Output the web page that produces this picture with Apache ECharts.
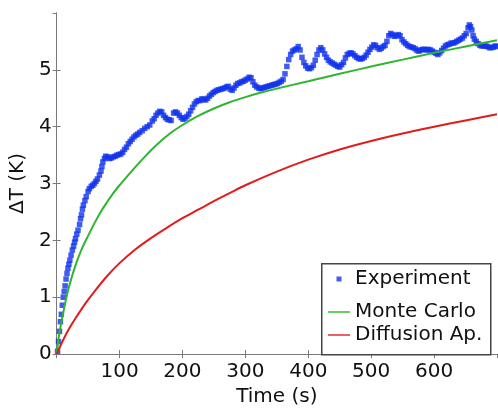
<!DOCTYPE html>
<html>
<head>
<meta charset="utf-8">
<script src="https://cdn.jsdelivr.net/npm/echarts@6/dist/echarts.min.js"></script>
<style>
  html, body { margin: 0; padding: 0; background: #fff; }
  #main { width: 498px; height: 412px; }
</style>
</head>
<body>
<div id="main"></div>
<script>
// experiment (time in s, delta T in K)
var expTime = [1.5, 3, 4.5, 6, 7.5, 9, 10.5, 12, 13.5, 15, 16.5, 18, 19.5, 21, 23, 25, 27, 28.5, 30, 32,
  34, 36.5, 38, 39.5, 41, 42.5, 45, 47, 50, 52, 55, 57.5, 60, 62.5, 65, 68, 70.5, 72, 73.5, 76,
  78, 81, 84, 87, 90, 93, 96, 99, 102, 105, 108, 111, 114, 117, 120, 123, 126, 129, 132, 136,
  140, 144, 148, 152, 155, 158, 161, 164, 167, 170, 173, 176, 179, 182, 186, 189, 192, 195, 198, 201,
  204, 207, 210, 213, 216, 219, 222, 225, 228, 231, 234, 237, 240, 243, 246, 249, 252, 255, 258, 261,
  264, 267, 270, 273, 276, 279, 282, 285, 288, 291, 294, 297, 300, 303, 306, 309, 312, 315, 318, 321,
  324, 327, 330, 333, 336, 339, 342, 345, 348, 351, 354, 357, 360, 363, 366, 369, 372, 375, 378, 381,
  384, 387, 390, 393, 396, 399, 402, 405, 408, 411, 414, 417, 420, 423, 426, 429, 432, 435, 438, 441,
  444, 447, 450, 453, 456, 459, 462, 465, 468, 471, 474, 477, 480, 483, 486, 489, 492, 495, 498, 501,
  504, 507, 510, 513, 516, 519, 522, 525, 528, 531, 534, 537, 540, 543, 546, 549, 552, 555, 558, 561,
  564, 567, 570, 573, 576, 579, 582, 585, 588, 591, 594, 597, 600, 603, 606, 609, 612, 615, 618, 621,
  624, 627, 630, 633, 636, 639, 642, 645, 648, 651, 654, 656, 658, 660, 662, 664, 667, 670, 673, 676,
  679, 682, 685, 688, 691, 694, 697, 700];
var expDT = [0.05, 0.22, 0.4, 0.57, 0.7, 0.86, 1.0, 1.1, 1.2, 1.32, 1.42, 1.51, 1.58, 1.65, 1.74, 1.83, 1.9, 1.97, 2.03, 2.11,
  2.18, 2.28, 2.38, 2.45, 2.55, 2.62, 2.7, 2.77, 2.86, 2.91, 2.95, 2.97, 3.0, 3.04, 3.08, 3.15, 3.22, 3.3, 3.38, 3.44,
  3.48, 3.47, 3.44, 3.45, 3.47, 3.48, 3.5, 3.51, 3.52, 3.55, 3.6, 3.64, 3.7, 3.74, 3.78, 3.82, 3.85, 3.87, 3.9, 3.93,
  3.97, 4.0, 4.03, 4.1, 4.14, 4.2, 4.24, 4.27, 4.26, 4.2, 4.16, 4.13, 4.12, 4.11, 4.24, 4.26, 4.24, 4.2, 4.16, 4.13,
  4.15, 4.18, 4.22, 4.28, 4.34, 4.4, 4.44, 4.46, 4.46, 4.49, 4.48, 4.47, 4.5, 4.54, 4.57, 4.6, 4.62, 4.64, 4.65, 4.66,
  4.67, 4.68, 4.7, 4.71, 4.66, 4.64, 4.68, 4.73, 4.76, 4.77, 4.79, 4.8, 4.82, 4.84, 4.87, 4.86, 4.79, 4.73, 4.7, 4.68,
  4.67, 4.68, 4.69, 4.7, 4.71, 4.72, 4.73, 4.74, 4.75, 4.76, 4.78, 4.8, 4.83, 4.93, 5.06, 5.18, 5.27, 5.33, 5.35, 5.37,
  5.41, 5.35, 5.22, 5.13, 5.07, 5.03, 5.02, 5.04, 5.08, 5.17, 5.27, 5.35, 5.39, 5.35, 5.28, 5.22, 5.17, 5.14, 5.12, 5.1,
  5.08, 5.06, 5.05, 5.09, 5.13, 5.21, 5.27, 5.29, 5.3, 5.28, 5.25, 5.22, 5.2, 5.19, 5.2, 5.22, 5.26, 5.31, 5.36, 5.4,
  5.44, 5.43, 5.39, 5.36, 5.38, 5.41, 5.43, 5.5, 5.6, 5.64, 5.62, 5.59, 5.6, 5.62, 5.6, 5.53, 5.49, 5.46, 5.43, 5.41,
  5.4, 5.39, 5.37, 5.34, 5.33, 5.35, 5.36, 5.36, 5.35, 5.36, 5.35, 5.33, 5.31, 5.29, 5.27, 5.3, 5.34, 5.38, 5.42, 5.44,
  5.45, 5.47, 5.47, 5.48, 5.5, 5.52, 5.54, 5.56, 5.6, 5.64, 5.74, 5.79, 5.76, 5.7, 5.6, 5.54, 5.5, 5.46, 5.43, 5.42,
  5.42, 5.42, 5.41, 5.39, 5.39, 5.4, 5.42, 5.41];

// Monte Carlo curve
var mcTime = [0, 3, 6, 10, 15, 20, 30, 40, 50, 60, 70, 80, 90, 100, 110, 125, 140, 160, 180, 200,
  225, 250, 275, 300, 325, 350, 400, 450, 500, 550, 600, 650, 700];
var mcDT = [0, 0.27, 0.47, 0.7, 0.97, 1.2, 1.56, 1.85, 2.08, 2.3, 2.5, 2.67, 2.83, 2.97, 3.1, 3.29, 3.47, 3.69, 3.88, 4.03,
  4.19, 4.32, 4.43, 4.52, 4.6, 4.67, 4.8, 4.93, 5.06, 5.18, 5.3, 5.41, 5.52];

// diffusion approximation curve
var daTime = [0, 10, 20, 30, 45, 60, 80, 100, 125, 150, 175, 200, 225, 250, 275, 300, 350, 400, 450, 500,
  550, 600, 650, 700];
var daDT = [0, 0.24, 0.45, 0.63, 0.88, 1.1, 1.37, 1.6, 1.84, 2.04, 2.22, 2.39, 2.54, 2.69, 2.83, 2.97, 3.21, 3.42, 3.6, 3.75,
  3.88, 4.0, 4.11, 4.22];

function pairs(xs, ys) {
  var out = [];
  for (var i = 0; i < xs.length; i++) out.push([xs[i], ys[i]]);
  return out;
}

var font = 'DejaVu Sans';
var axisGray = '#7a7a7a';
var tickStyle = { show: true, inside: true, length: 4, lineStyle: { color: axisGray } };
var lineStyle = { show: true, lineStyle: { color: axisGray, width: 1 } };
var lineIcon = 'path://M0,0M22,14M0,6.2h22v1.6h-22z';

var chart = echarts.init(document.getElementById('main'));
chart.setOption({
  animation: false,
  backgroundColor: '#fff',
  grid: { left: 53, right: 1, top: 13, bottom: 49 },
  xAxis: [{
    type: 'value', min: 0, max: 700, interval: 100, position: 'bottom',
    name: 'Time (s)', nameLocation: 'middle', nameGap: 27,
    nameTextStyle: { fontFamily: font, fontSize: 20, color: '#111' },
    axisLine: lineStyle, axisTick: tickStyle, splitLine: { show: false },
    axisLabel: { fontFamily: font, fontSize: 20, color: '#111', margin: 8, showMinLabel: false, showMaxLabel: false }
  }, {
    type: 'value', min: 0, max: 700, interval: 100, position: 'top',
    axisLine: lineStyle, axisTick: tickStyle, splitLine: { show: false }, axisLabel: { show: false }
  }],
  yAxis: [{
    type: 'value', min: 0, max: 6, interval: 1, position: 'left',
    name: 'ΔT (K)', nameLocation: 'middle', nameGap: 16,
    nameTextStyle: { fontFamily: font, fontSize: 20, color: '#111' },
    axisLine: lineStyle, axisTick: tickStyle, splitLine: { show: false },
    axisLabel: { fontFamily: font, fontSize: 20, color: '#111', margin: 5, showMaxLabel: false }
  }, {
    type: 'value', min: 0, max: 6, interval: 1, position: 'right',
    axisLine: lineStyle, axisTick: tickStyle, splitLine: { show: false }, axisLabel: { show: false }
  }],
  graphic: [{
    type: 'rect', left: 321, top: 263, z: 3,
    shape: { width: 169, height: 91 },
    style: { fill: '#fff', stroke: '#444', lineWidth: 1.5 }
  }],
  legend: [{
    data: [{ name: 'Experiment', icon: 'path://M0,0M22,14M8.5,4.5h5v5h-5z' }],
    orient: 'vertical', left: 328, top: 269, padding: 0,
    itemWidth: 22, itemHeight: 14,
    textStyle: { fontFamily: font, fontSize: 20, color: '#111' }
  }, {
    data: [{ name: 'Monte Carlo', icon: lineIcon }, { name: 'Diffusion Ap.', icon: lineIcon }],
    orient: 'vertical', left: 328, top: 302, padding: 0, itemGap: 3,
    itemWidth: 22, itemHeight: 14,
    textStyle: { fontFamily: font, fontSize: 20, color: '#111' }
  }],
  series: [{
    name: 'Experiment', type: 'scatter', symbol: 'rect', symbolSize: 5.5,
    itemStyle: { color: '#1133ee' },
    data: pairs(expTime, expDT)
  }, {
    name: 'Monte Carlo', type: 'line', smooth: 0.3, symbol: 'none',
    lineStyle: { color: '#2fb52f', width: 2 }, itemStyle: { color: '#3cc43c' },
    data: pairs(mcTime, mcDT)
  }, {
    name: 'Diffusion Ap.', type: 'line', smooth: 0.3, symbol: 'none',
    lineStyle: { color: '#e01c1c', width: 2 }, itemStyle: { color: '#e83a3a' },
    data: pairs(daTime, daDT)
  }]
});
</script>
</body>
</html>
